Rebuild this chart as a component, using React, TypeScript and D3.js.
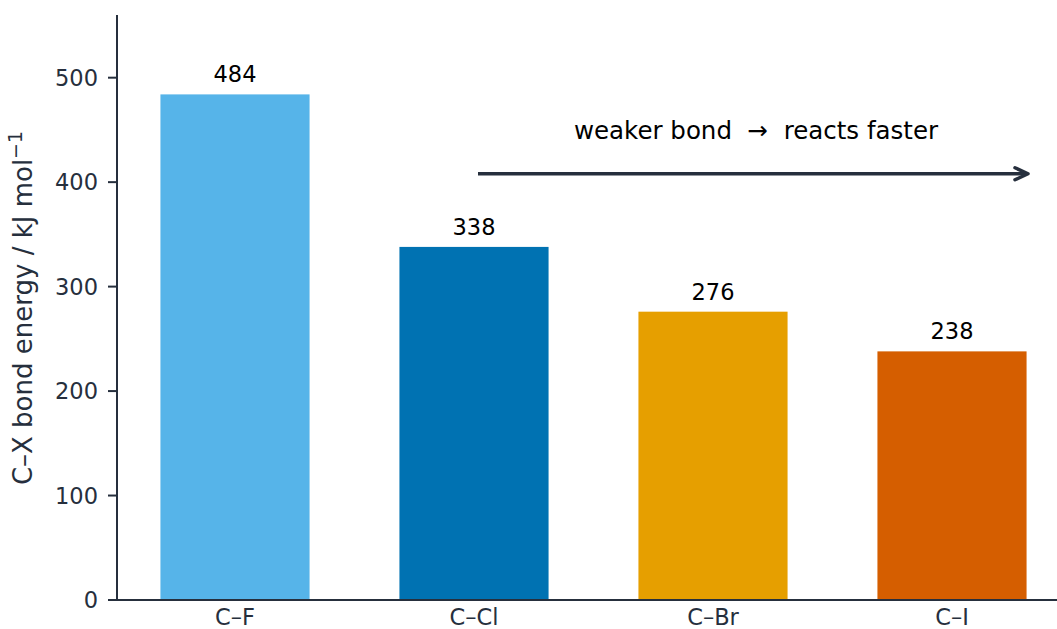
import React from "react";
import * as d3 from "d3";

const categories = ["C–F", "C–Cl", "C–Br", "C–I"];
const energies = [484, 338, 276, 238];
const barColors = ["#56B4E9", "#0072B2", "#E69F00", "#D55E00"];
const yTicks = [0, 100, 200, 300, 400, 500];

const W = 1057;
const H = 629;
const INK = "#262f3d";
const FONT = "'DejaVu Sans', sans-serif";

export default function App() {
  const x = d3
    .scaleBand<string>()
    .domain(categories)
    .range([115.5, 1071.5])
    .paddingInner(0.376)
    .paddingOuter(0.188);
  const y = d3.scaleLinear().domain([0, 560]).range([600, 15]);
  const axisX = 117;
  const axisY = y(0);

  const arrowY = y(408);
  const arrowX0 = 478;
  const arrowX1 = 1028;

  return (
    <svg
      width={W}
      height={H}
      style={{ position: "absolute", left: 0, top: 0, display: "block", background: "#fff" }}
      fontFamily={FONT}
    >
      <rect width={W} height={H} fill="#fff" />
      {categories.map((c, i) => (
        <g key={c}>
          <rect
            x={x(c)!}
            y={y(energies[i])}
            width={x.bandwidth()}
            height={y(0) - y(energies[i])}
            fill={barColors[i]}
          />
          <text
            x={x(c)! + x.bandwidth() / 2}
            y={y(energies[i]) - 12}
            textAnchor="middle"
            fontSize={22.5}
            fill="#000"
          >
            {energies[i]}
          </text>
          <text
            x={x(c)! + x.bandwidth() / 2}
            y={624.5}
            textAnchor="middle"
            fontSize={22.5}
            fill={INK}
          >
            {c}
          </text>
        </g>
      ))}
      <line x1={axisX} x2={axisX} y1={15} y2={axisY} stroke={INK} strokeWidth={2} />
      {yTicks.map((t) => (
        <g key={t}>
          <line x1={axisX - 9} x2={axisX} y1={y(t)} y2={y(t)} stroke={INK} strokeWidth={2} />
          <text
            x={98}
            y={y(t)}
            dy="0.36em"
            textAnchor="end"
            fontSize={22.5}
            fill={INK}
          >
            {t}
          </text>
        </g>
      ))}
      <line x1={axisX} x2={W} y1={axisY} y2={axisY} stroke={INK} strokeWidth={2} />
      <text
        transform={`translate(32, ${308}) rotate(-90)`}
        textAnchor="middle"
        fontSize={26}
        fill={INK}
      >
        C–X bond energy / kJ mol
        <tspan dy={-10} fontSize={19}>−1</tspan>
      </text>
      <text
        x={756}
        y={139}
        textAnchor="middle"
        fontSize={24.5}
        fill="#000"
        style={{ whiteSpace: "pre" }}
        xmlSpace="preserve"
      >
        {"weaker bond  \u2192  reacts faster"}
      </text>
      <line
        x1={arrowX0}
        x2={arrowX1 - 1.5}
        y1={arrowY}
        y2={arrowY}
        stroke={INK}
        strokeWidth={3.5}
      />
      <path
        d={`M${arrowX1 - 13},${arrowY - 6} L${arrowX1},${arrowY} L${arrowX1 - 13},${arrowY + 6}`}
        fill="none"
        stroke={INK}
        strokeWidth={3.5}
        strokeLinejoin="round"
        strokeLinecap="round"
      />
    </svg>
  );
}
